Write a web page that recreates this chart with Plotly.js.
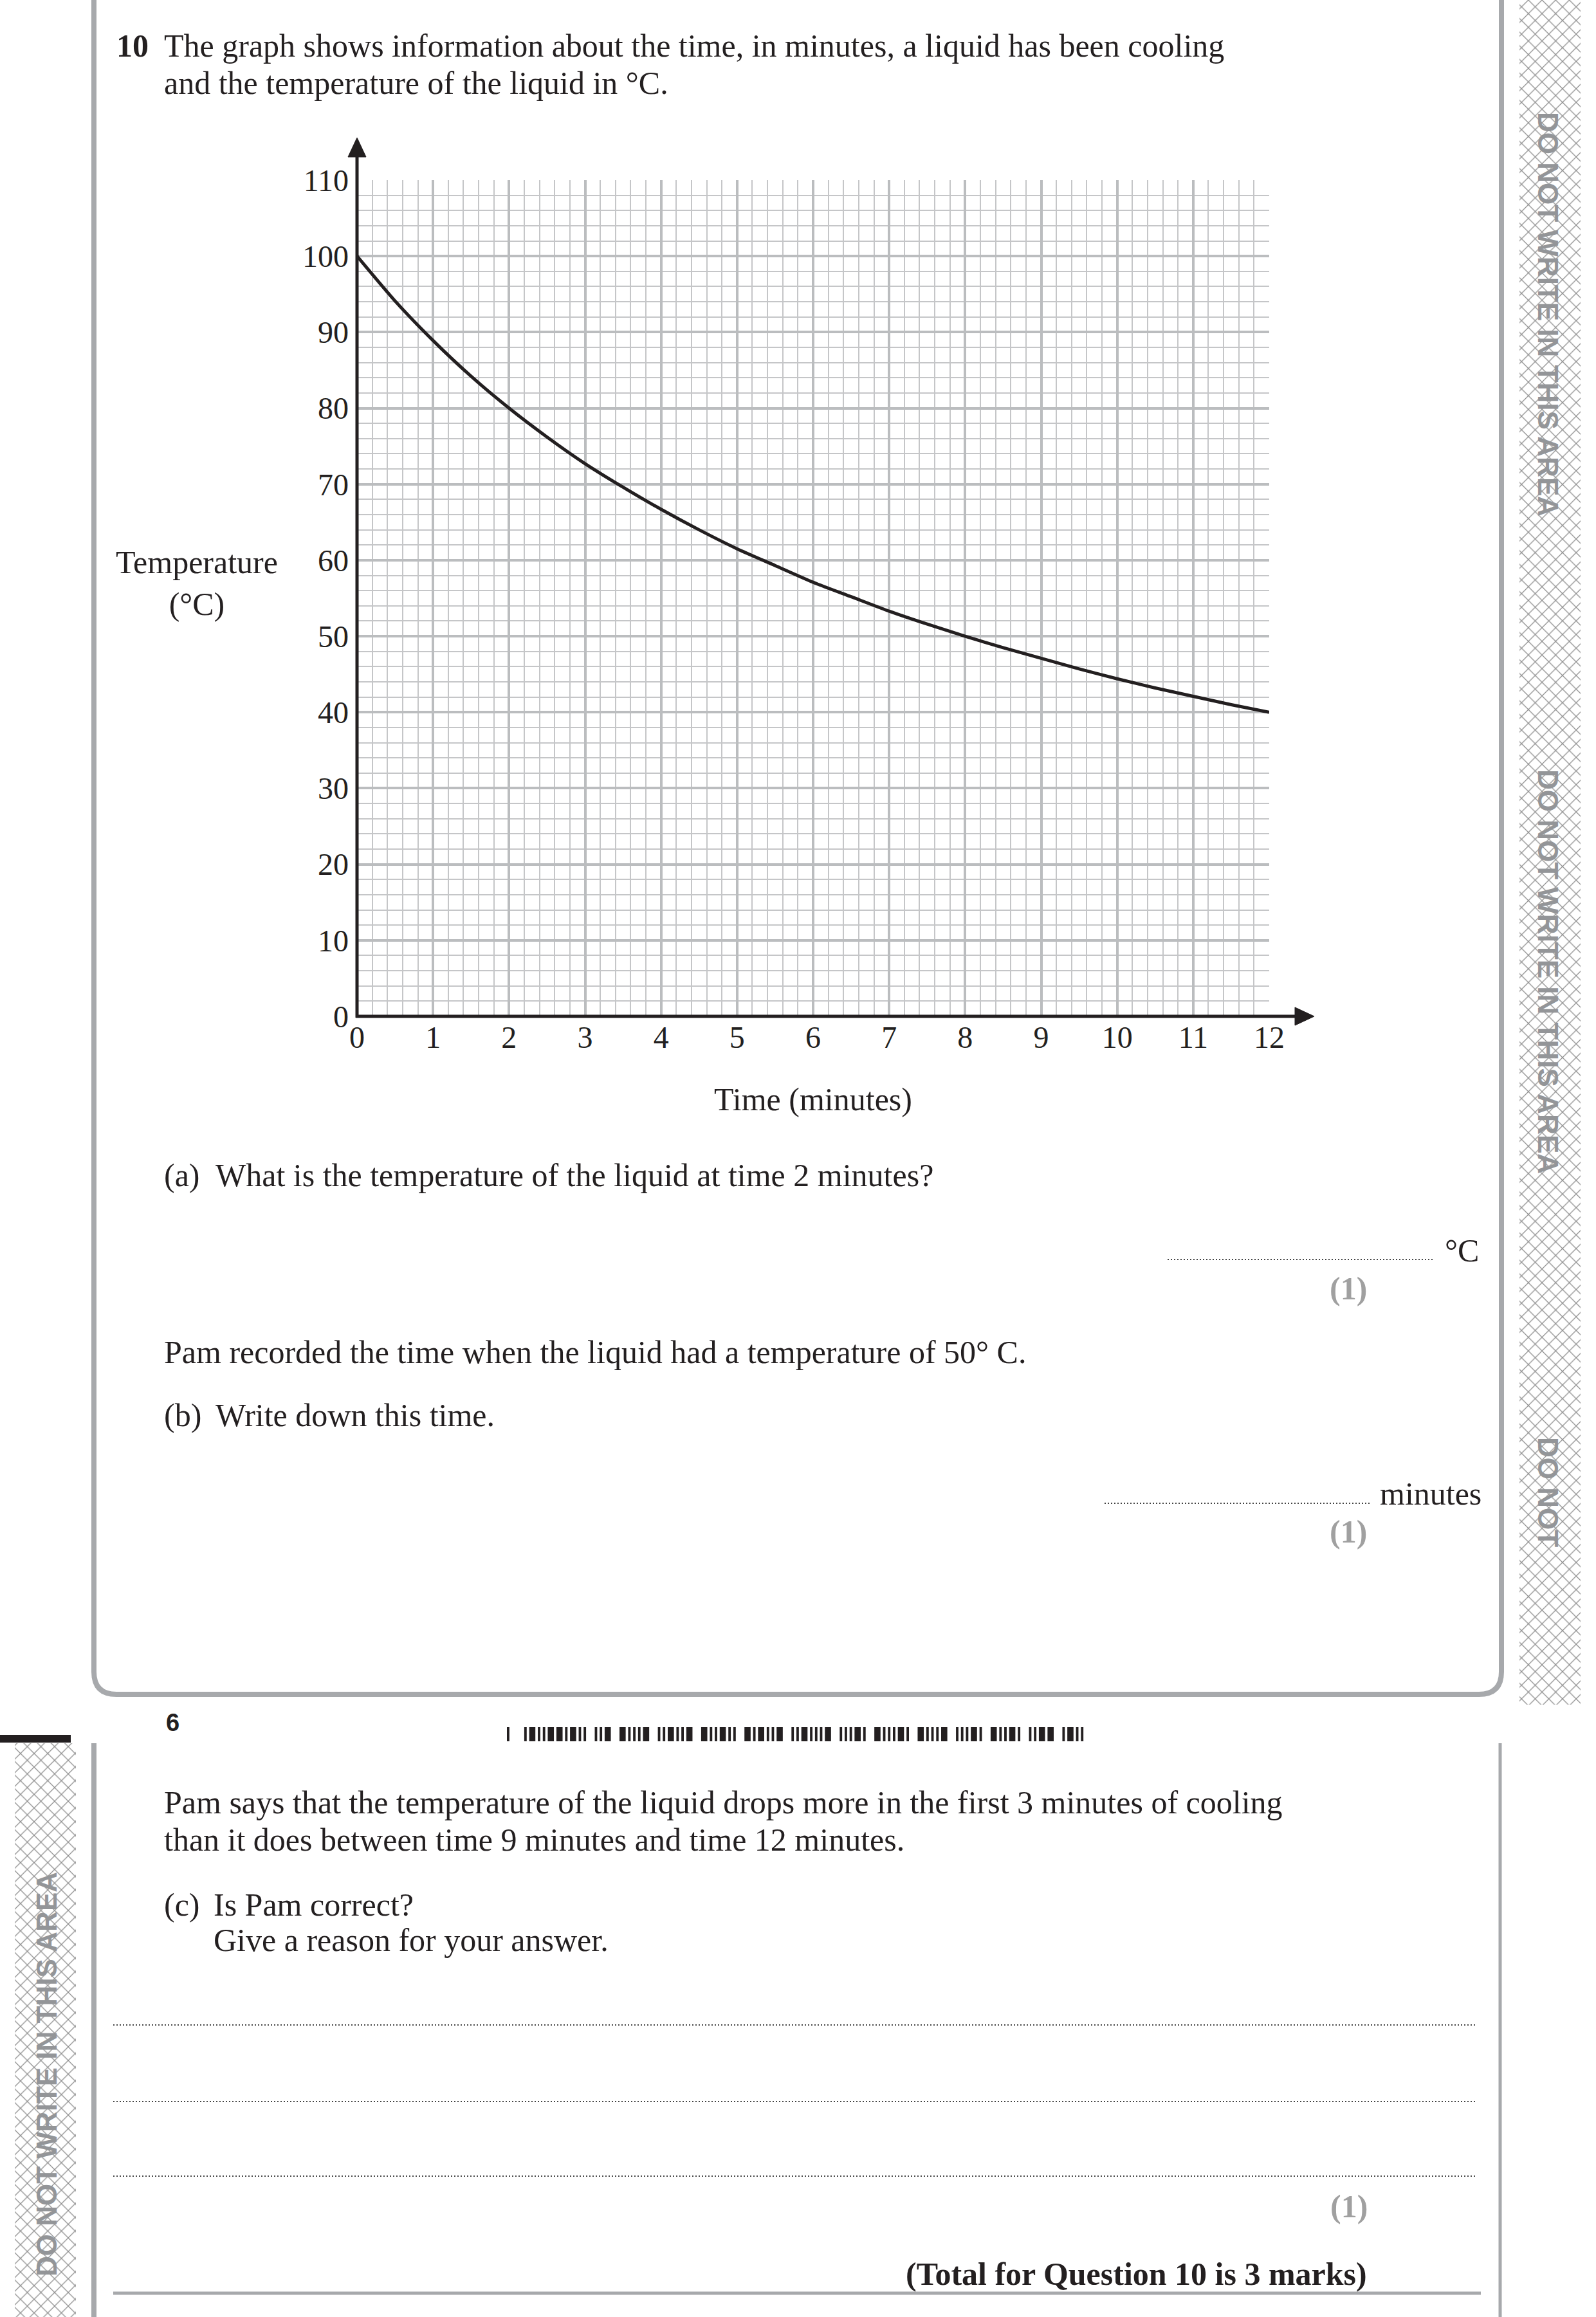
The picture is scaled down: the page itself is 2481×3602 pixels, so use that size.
<!DOCTYPE html>
<html>
<head>
<meta charset="utf-8">
<script src="https://cdn.plot.ly/plotly-3.0.1.min.js"></script>
<style>
html,body{margin:0;padding:0;background:#ffffff;}
#chart{width:2481px;height:3602px;}
</style>
</head>
<body>
<div id="chart"></div>
<script>
// ---------------- data ----------------
const timeMinutes = [0,0.5,1,1.5,2,2.5,3,3.5,4,4.5,5,5.5,6,6.5,7,7.5,8,8.5,9,9.5,10,10.5,11,11.5,12];
const temperatureC = [100,94.1,88.9,84.2,80,76.2,72.7,69.6,66.7,64,61.5,59.3,57.1,55.2,53.3,51.6,50,48.5,47.1,45.7,44.4,43.2,42.1,41,40];
const xTickValues = [0,1,2,3,4,5,6,7,8,9,10,11,12];
const xTickLabels = ["0","1","2","3","4","5","6","7","8","9","10","11","12"];
const yTickValues = [0,10,20,30,40,50,60,70,80,90,100,110];
const yTickLabels = ["0","10","20","30","40","50","60","70","80","90","100","110"];
const xAxisTitle = "Time (minutes)";
const yAxisTitle = "Temperature<br>(°C)";

// ---------------- page texts ----------------
const questionNumber = "10";
const introLine1 = "The graph shows information about the time, in minutes, a liquid has been cooling";
const introLine2 = "and the temperature of the liquid in °C.";
const partA = "What is the temperature of the liquid at time 2 minutes?";
const pamLine = "Pam recorded the time when the liquid had a temperature of 50° C.";
const partB = "Write down this time.";
const pamSays1 = "Pam says that the temperature of the liquid drops more in the first 3 minutes of cooling";
const pamSays2 = "than it does between time 9 minutes and time 12 minutes.";
const partC1 = "Is Pam correct?";
const partC2 = "Give a reason for your answer.";
const totalText = "(Total for Question 10 is 3 marks)";
const marginText = "DO NOT WRITE IN THIS AREA";
const barcodePattern = "n__nWnnWWnWnn_nnW_WnnnW_nnWnnW_WnnWnn_WnWnnW_nnWnnnW_nnnWn_WnnnWn_WnnnW_nnnWn_WnnWn_nnWW_nWnn";

const W = 2481, H = 3602;
const SERIF = "Liberation Serif, 'Times New Roman', serif";
const SANSB = "'Liberation Sans Narrow', 'Liberation Sans', Arial, sans-serif";
const INK = "#231f20";
const GREYLINE = "#a7a9ac";
const BODY = 50;

// pixel-referenced helpers (x2/y2 span the full page in pixels)
function txt(text, x, y, opts) {
  return Object.assign({
    text: text, x: x, y: y, xref: 'x2', yref: 'y2',
    xanchor: 'left', yanchor: 'middle', showarrow: false,
    font: {family: SERIF, size: BODY, color: INK}
  }, opts || {});
}
function line(x0, y0, x1, y1, color, width, dash) {
  return {type: 'line', xref: 'x2', yref: 'y2', x0: x0, y0: y0, x1: x1, y1: y1,
          line: {color: color, width: width, dash: dash || 'solid'}};
}
function rect(x0, y0, x1, y1, color) {
  return {type: 'rect', xref: 'x2', yref: 'y2', x0: x0, y0: y0, x1: x1, y1: y1,
          fillcolor: color, line: {width: 0}};
}
function path(p, fill, color, width) {
  return {type: 'path', xref: 'x2', yref: 'y2', path: p,
          fillcolor: fill, line: {color: color, width: width}};
}

// ---------------- traces ----------------
const curve = {
  x: timeMinutes, y: temperatureC, type: 'scatter', mode: 'lines',
  line: {color: INK, width: 5, shape: 'spline', smoothing: 0.6},
  hoverinfo: 'x+y', xaxis: 'x', yaxis: 'y'
};

function hatch(x0, y0, x1, y1) {
  return {
    x: [x0, x1, x1, x0, x0], y: [y0, y0, y1, y1, y0], xaxis: 'x2', yaxis: 'y2',
    type: 'scatter', mode: 'lines', line: {width: 0, color: 'rgba(0,0,0,0)'},
    fill: 'toself', fillcolor: 'rgba(0,0,0,0)',
    fillpattern: {shape: 'x', size: 15, solidity: 0.16, fgcolor: '#8e8e8e', bgcolor: '#ffffff'},
    hoverinfo: 'skip'
  };
}

const traces = [hatch(2362, 0, 2457, 2650), hatch(23, 2710, 118, 3602), curve];

// ---------------- shapes ----------------
const shapes = [];
shapes.push(path('M 146,-20 L 146,2599 Q 146,2634 181,2634 L 2299,2634 Q 2334,2634 2334,2599 L 2334,-20',
                 'rgba(0,0,0,0)', GREYLINE, 8));
shapes.push(line(146, 2710, 146, 3620, GREYLINE, 8));
shapes.push(line(2332, 2710, 2332, 3620, GREYLINE, 5));
shapes.push(rect(0, 2697, 110, 2709, INK));
// axes with arrows
shapes.push(line(555, 1582, 555, 240, INK, 5));
shapes.push(path('M 541,244 L 569,244 L 555,214 Z', INK, INK, 1));
shapes.push(line(553, 1580, 2016, 1580, INK, 5));
shapes.push(path('M 2013,1566 L 2013,1594 L 2043,1580 Z', INK, INK, 1));
// answer lines
shapes.push(line(1815, 1958, 2230, 1958, '#444', 2, '2px,3px'));
shapes.push(line(1717, 2337, 2131, 2337, '#444', 2, '2px,3px'));
[3148, 3267, 3383].forEach(y => shapes.push(line(176, y, 2294, y, '#444', 2, '2px,3px')));
shapes.push(line(176, 3565, 2302, 3565, GREYLINE, 5));
// barcode
(function () {
  const items = [];
  let total = 0;
  for (const c of barcodePattern) {
    if (c === 'n') { items.push([total, 4]); total += 8; }
    else if (c === 'W') { items.push([total, 10]); total += 14; }
    else { total += 10; }
  }
  const scale = 900 / total, x0 = 788;
  items.forEach(([s, w]) => shapes.push(rect(x0 + s * scale, 2685, x0 + (s + w) * scale, 2707, INK)));
})();

// ---------------- annotations ----------------
const GREYMARK = {family: SERIF, size: BODY, color: '#a0a0a0'};
const ann = [];
ann.push(txt('<b>' + questionNumber + '</b>', 179, 71));
ann.push(txt(introLine1, 253, 71));
ann.push(txt(introLine2, 253, 129));
ann.push(txt(yAxisTitle, 306, 906, {xanchor: 'center', align: 'center'}));
ann.push(txt('(a)', 253, 1827));
ann.push(txt(partA, 333, 1827));
ann.push(txt('°C', 2244, 1944));
ann.push(txt('<b>(1)</b>', 2096, 2003, {xanchor: 'center', font: GREYMARK}));
ann.push(txt(pamLine, 253, 2102));
ann.push(txt('(b)', 253, 2200));
ann.push(txt(partB, 333, 2200));
ann.push(txt('minutes', 2143, 2322));
ann.push(txt('<b>(1)</b>', 2096, 2381, {xanchor: 'center', font: GREYMARK}));
ann.push(txt('<b>6</b>', 268, 2678, {xanchor: 'center', font: {family: "'Liberation Sans', Arial, sans-serif", size: 38, color: INK}}));
ann.push(txt(pamSays1, 253, 2802));
ann.push(txt(pamSays2, 253, 2860));
ann.push(txt('(c)', 253, 2961));
ann.push(txt(partC1, 330, 2961));
ann.push(txt(partC2, 330, 3016));
ann.push(txt('<b>(1)</b>', 2097, 3430, {xanchor: 'center', font: GREYMARK}));
ann.push(txt('<b>' + totalText + '</b>', 2127, 3535, {xanchor: 'right'}));
const sideFont = {family: SANSB, size: 44, color: '#939598'};
ann.push(txt('<b>' + marginText + '</b>', 2407, 488, {xanchor: 'center', textangle: 90, font: sideFont}));
ann.push(txt('<b>' + marginText + '</b>', 2407, 1510, {xanchor: 'center', textangle: 90, font: sideFont}));
ann.push(txt('<b>DO NOT</b>', 2407, 2319, {xanchor: 'center', textangle: 90, font: sideFont}));
ann.push(txt('<b>' + marginText + '</b>', 72, 3225, {xanchor: 'center', textangle: -90, font: sideFont}));

// ---------------- layout ----------------
const layout = {
  width: W, height: H,
  margin: {l: 0, r: 0, t: 0, b: 0, pad: 0},
  paper_bgcolor: '#ffffff', plot_bgcolor: 'rgba(0,0,0,0)',
  showlegend: false,
  font: {family: SERIF, size: BODY, color: INK},
  xaxis: {
    domain: [555 / W, 1973 / W], range: [0, 12], fixedrange: true,
    tickmode: 'array', tickvals: xTickValues, ticktext: xTickLabels,
    ticks: '', ticklabelstandoff: 0,
    tickfont: {family: SERIF, size: 48, color: INK},
    showgrid: true, gridcolor: '#bbbdbf', gridwidth: 4,
    minor: {dtick: 0.2, showgrid: true, gridcolor: '#c5c6c8', gridwidth: 2, ticks: ''},
    zeroline: false, showline: false,
    title: {text: xAxisTitle, font: {family: SERIF, size: BODY, color: INK}, standoff: 52},
    anchor: 'y'
  },
  yaxis: {
    domain: [(H - 1580) / H, (H - 280) / H], range: [0, 110], fixedrange: true,
    tickmode: 'array', tickvals: yTickValues, ticktext: yTickLabels,
    ticks: '', ticklabelstandoff: 12,
    tickfont: {family: SERIF, size: 48, color: INK},
    showgrid: true, gridcolor: '#bbbdbf', gridwidth: 4,
    minor: {dtick: 2, showgrid: true, gridcolor: '#c5c6c8', gridwidth: 2, ticks: ''},
    zeroline: false, showline: false,
    anchor: 'x'
  },
  xaxis2: {domain: [0, 1], range: [0, W], visible: false, fixedrange: true, anchor: 'y2'},
  yaxis2: {domain: [0, 1], range: [H, 0], visible: false, fixedrange: true, anchor: 'x2'},
  shapes: shapes,
  annotations: ann
};

Plotly.newPlot('chart', traces, layout, {displayModeBar: false, staticPlot: true});
</script>
</body>
</html>
